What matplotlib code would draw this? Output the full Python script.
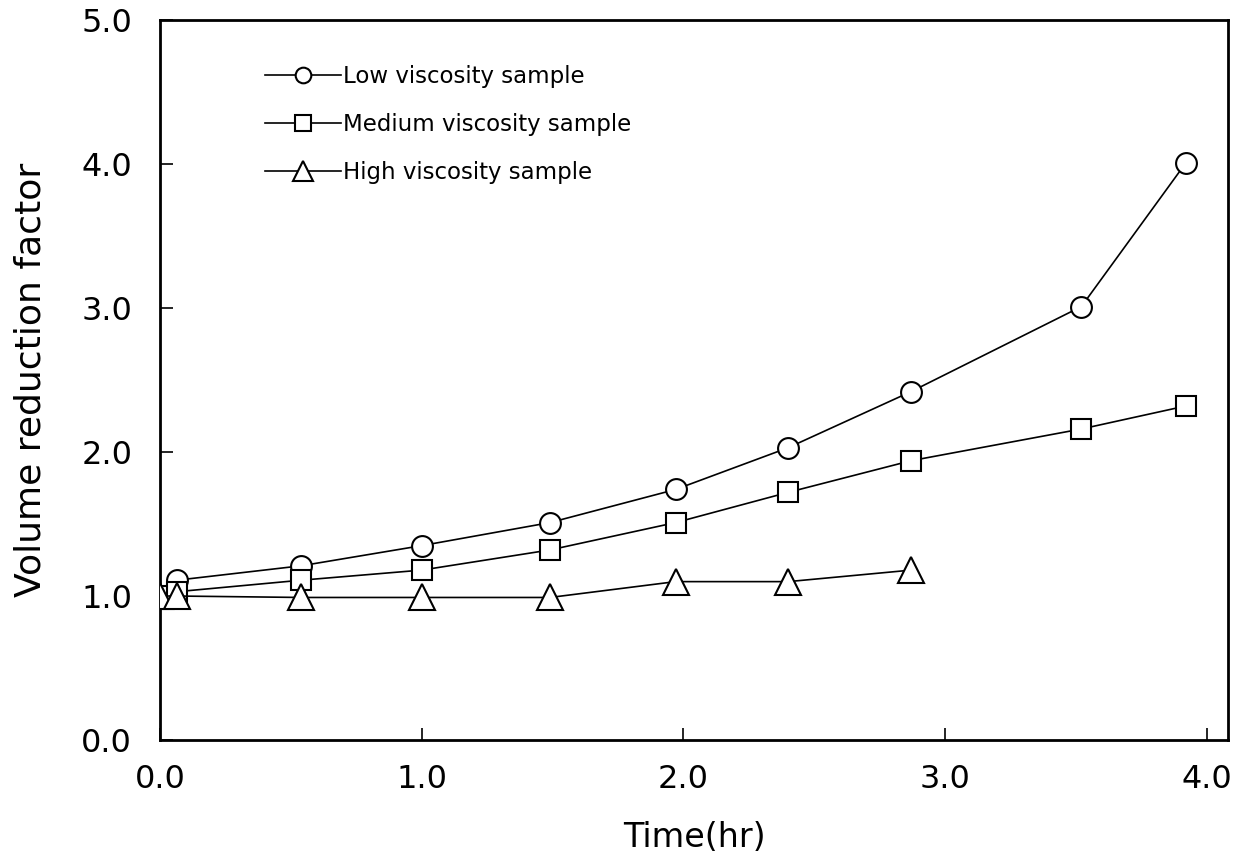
import matplotlib
matplotlib.use("Agg")
import matplotlib.pyplot as plt
from matplotlib.ticker import FormatStrFormatter

# Data
low_x = [0.065, 0.54, 1.00, 1.49, 1.97, 2.40, 2.87, 3.52, 3.92]
low_y = [1.11, 1.21, 1.35, 1.51, 1.74, 2.03, 2.42, 3.01, 4.01]

med_x = [0.0, 0.065, 0.54, 1.00, 1.49, 1.97, 2.40, 2.87, 3.52, 3.92]
med_y = [1.00, 1.03, 1.11, 1.18, 1.32, 1.51, 1.72, 1.94, 2.16, 2.32]

high_x = [0.0, 0.065, 0.54, 1.00, 1.49, 1.97, 2.40, 2.87]
high_y = [1.00, 1.00, 0.99, 0.99, 0.99, 1.10, 1.10, 1.18]

labels = ["Low viscosity sample", "Medium viscosity sample", "High viscosity sample"]
x_ticks = [0.0, 1.0, 2.0, 3.0, 4.0]
y_ticks = [0.0, 1.0, 2.0, 3.0, 4.0, 5.0]

plt.rcParams['font.family'] = ['DejaVu Sans']

fig = plt.figure(figsize=(12.36, 8.59), dpi=100)
ax = fig.add_axes([0.1294, 0.1385, 0.8641, 0.8382])

lw = 1.2
ax.plot(low_x, low_y, color='black', lw=lw, marker='o', ms=15, mfc='white',
        mec='black', mew=1.5, label=labels[0], zorder=3)
ax.plot(med_x, med_y, color='black', lw=lw, marker='s', ms=15, mfc='white',
        mec='black', mew=1.5, label=labels[1], zorder=4)
ax.plot(high_x, high_y, color='black', lw=lw, marker='^', ms=19, mfc='white',
        mec='black', mew=1.5, label=labels[2], zorder=5)

ax.set_xlim(0, 4.08)
ax.set_ylim(0, 5.0)
ax.set_xticks(x_ticks)
ax.set_yticks(y_ticks)
ax.xaxis.set_major_formatter(FormatStrFormatter('%.1f'))
ax.yaxis.set_major_formatter(FormatStrFormatter('%.1f'))
ax.tick_params(direction='in', length=9, width=1.2, labelsize=23, pad=17)
ax.tick_params(axis='y', pad=20)

for s in ax.spines.values():
    s.set_linewidth(2.0)

ax.set_xlabel("Time(hr)", fontsize=24)
ax.set_ylabel("Volume reduction factor", fontsize=26)
ax.xaxis.set_label_coords(0.5, -0.113)
ax.yaxis.set_label_coords(-0.105, 0.5)

leg = ax.legend(loc='upper left', bbox_to_anchor=(0.09, 0.950), frameon=False,
                fontsize=16.5, handlelength=3.3, handletextpad=0.08,
                labelspacing=1.08, markerscale=0.75, borderaxespad=0)

fig.savefig("out.png", dpi=100)
